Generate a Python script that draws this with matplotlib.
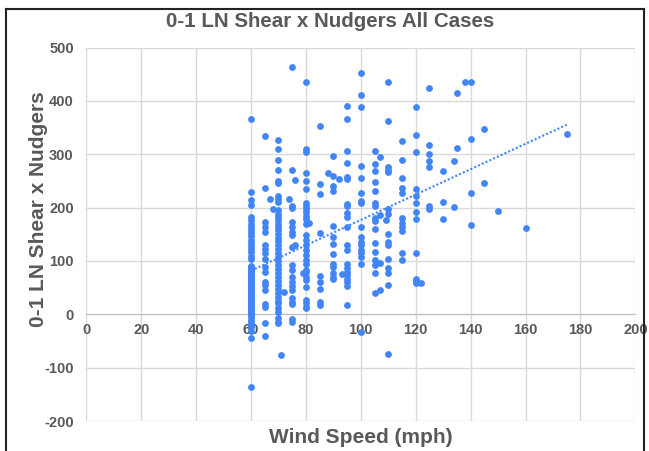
import matplotlib.pyplot as plt
import numpy as np
from matplotlib.lines import Line2D

# values read per wind speed column
v60 = [366, 229, 214, 204, 182, 176, 170, 164, 158, 152, 146, 140, 134, 128, 122, 116, 110, 104,
       88, 82, 76, 70, 64, 58, 52, 46, 40, 34, 28, 22, 16, 10, 5, 0, -5, -10, -15, -20, -24, -32, -45, -136]
# overplotted cases hidden inside the dense 60 mph column
v60_overlap = [2, 4, 8, 12, 14, 18, 20, 24, 26, 30, 32, 36, 38, 42, 44, 48, 50, 54, 56,
               60, 62, 66, 68, 72, 74, 78, 80, 84, 86, 90, 1, 6, 11, 17, 23, 29, 35, 41]
v65 = [335, 237, 173, 163, 154, 129, 123, 115, 103, 88, 79, 61, 55, 45, 20, 13, -17, -40]
v70 = [327, 310, 289, 270, 250, 246, 222, 217, 211, 196, 188, 182, 176, 170, 164, 158, 150, 143,
       137, 130, 122, 115, 108, 100, 92, 85, 78, 70, 62, 55, 48, 40, 32, 25, 21, 11, 5, -6, -14, -17]
v75 = [464, 270, 203, 200, 173, 163, 154, 148, 126, 92, 83, 70, 61, 54, 45, 30, 23, 20, -8, -14]
v80 = [436, 309, 304, 265, 250, 235, 209, 203, 197, 191, 185, 178, 170, 148, 139, 129, 120, 111,
       101, 95, 84, 79, 70, 64, 51, 26, 21, 14, 11]
v85 = [353, 245, 226, 153, 72, 60, 47, 23, 17]
v90 = [296, 260, 241, 231, 166, 145, 132, 113, 95, 89, 78, 70, 66]
v95 = [391, 367, 307, 283, 258, 253, 207, 203, 190, 182, 163, 129, 121, 95, 86, 79, 73, 67, 61, 54, 18]
v100 = [453, 411, 388, 278, 255, 228, 212, 208, 164, 144, 135, 129, 120, 114, 107, 95, -34]
v105 = [307, 282, 268, 248, 232, 209, 203, 181, 175, 160, 133, 116, 101, 92, 78, 40]
v110 = [435, 363, 277, 271, 266, 198, 188, 150, 136, 130, 104, 86, 78, 55, -74]
v115 = [324, 290, 256, 237, 228, 181, 172, 164, 156, 114, 102]
v120 = [389, 337, 304, 235, 222, 209, 191, 179, 114, 67, 63, 59]
v125 = [424, 317, 301, 287, 276, 203, 198]
v130 = [268, 210, 179]
v135 = [414, 311]
v140 = [436, 328, 228, 167]
v145 = [347, 246]

speeds = [60, 60, 65, 70, 75, 80, 85, 90, 95, 100, 105, 110, 115, 120, 125, 130, 135, 140, 145]
groups = [v60, v60_overlap, v65, v70, v75, v80, v85, v90, v95, v100, v105, v110, v115, v120,
          v125, v130, v135, v140, v145]

# scattered single points
other_x = [67, 68, 71, 72, 74, 76, 76, 79, 81, 88, 92, 93, 107, 107, 107, 107, 109, 122, 134, 134, 138, 150, 160, 175]
other_y = [216, 197, -77, 41, 217, 252, 129, 77, 172, 265, 253, 76, 295, 186, 96, 45, 177, 58, 287, 202, 436, 194, 162, 338]

x = []
y = []
for s, g in zip(speeds, groups):
    x += [s] * len(g)
    y += g
x = np.array(x + other_x, dtype=float)
y = np.array(y + other_y, dtype=float)

blue = '#4285F4'
grey = '#595959'
plt.rcParams['font.family'] = ['Liberation Sans', 'DejaVu Sans']
plt.rcParams['axes.unicode_minus'] = False

fig = plt.figure(figsize=(6.49, 4.51), dpi=100)
ax = fig.add_axes([0.133, 0.0665, 0.846, 0.828])

ax.scatter(x, y, s=24, color=blue, zorder=3, linewidths=0)

# linear trendline
k, b = np.polyfit(x, y, 1)
tx = np.array([x.min(), x.max()])
ax.plot(tx, k * tx + b, color=blue, linestyle=(0, (1, 1)), linewidth=1.5, zorder=2)

ax.set_xlim(0, 200)
ax.set_ylim(-200, 500)
ax.set_xticks(np.arange(0, 201, 20))
ax.set_yticks(np.arange(-200, 501, 100))
ax.grid(True, color='#D9D9D9', linewidth=1)
ax.set_axisbelow(True)
for sp in ['top', 'right', 'left']:
    ax.spines[sp].set_visible(False)
ax.spines['bottom'].set_position(('data', 0))
ax.spines['bottom'].set_color('#BFBFBF')
ax.spines['bottom'].set_zorder(1)
ax.tick_params(axis='x', length=0, pad=6, labelsize=10.5, labelcolor=grey)
ax.tick_params(axis='y', length=0, pad=9, labelsize=10.5, labelcolor=grey)
for lab in ax.get_xticklabels() + ax.get_yticklabels():
    lab.set_fontweight('bold')

ax.set_xlabel('Wind Speed (mph)', fontsize=15, fontweight='bold', color=grey)
ax.xaxis.set_label_coords(0.5, -0.043)
ax.xaxis.label.set_va('center')
ax.set_ylabel('0-1 LN Shear x Nudgers', fontsize=15, fontweight='bold', color=grey)
ax.yaxis.set_label_coords(-0.088, 0.568)
ax.yaxis.label.set_va('center')

fig.text(0.508, 0.952, '0-1 LN Shear x Nudgers All Cases', ha='center', va='center',
         fontsize=14.8, fontweight='bold', color=grey)

# chart border
fig.add_artist(Line2D([0.010, 0.010], [0, 0.981], color='#222222', linewidth=1.5))
fig.add_artist(Line2D([0.010, 0.993], [0.981, 0.981], color='#222222', linewidth=1.5))
fig.add_artist(Line2D([0.993, 0.993], [0, 0.981], color='#222222', linewidth=1.5))

fig.savefig('out.png', dpi=100)
